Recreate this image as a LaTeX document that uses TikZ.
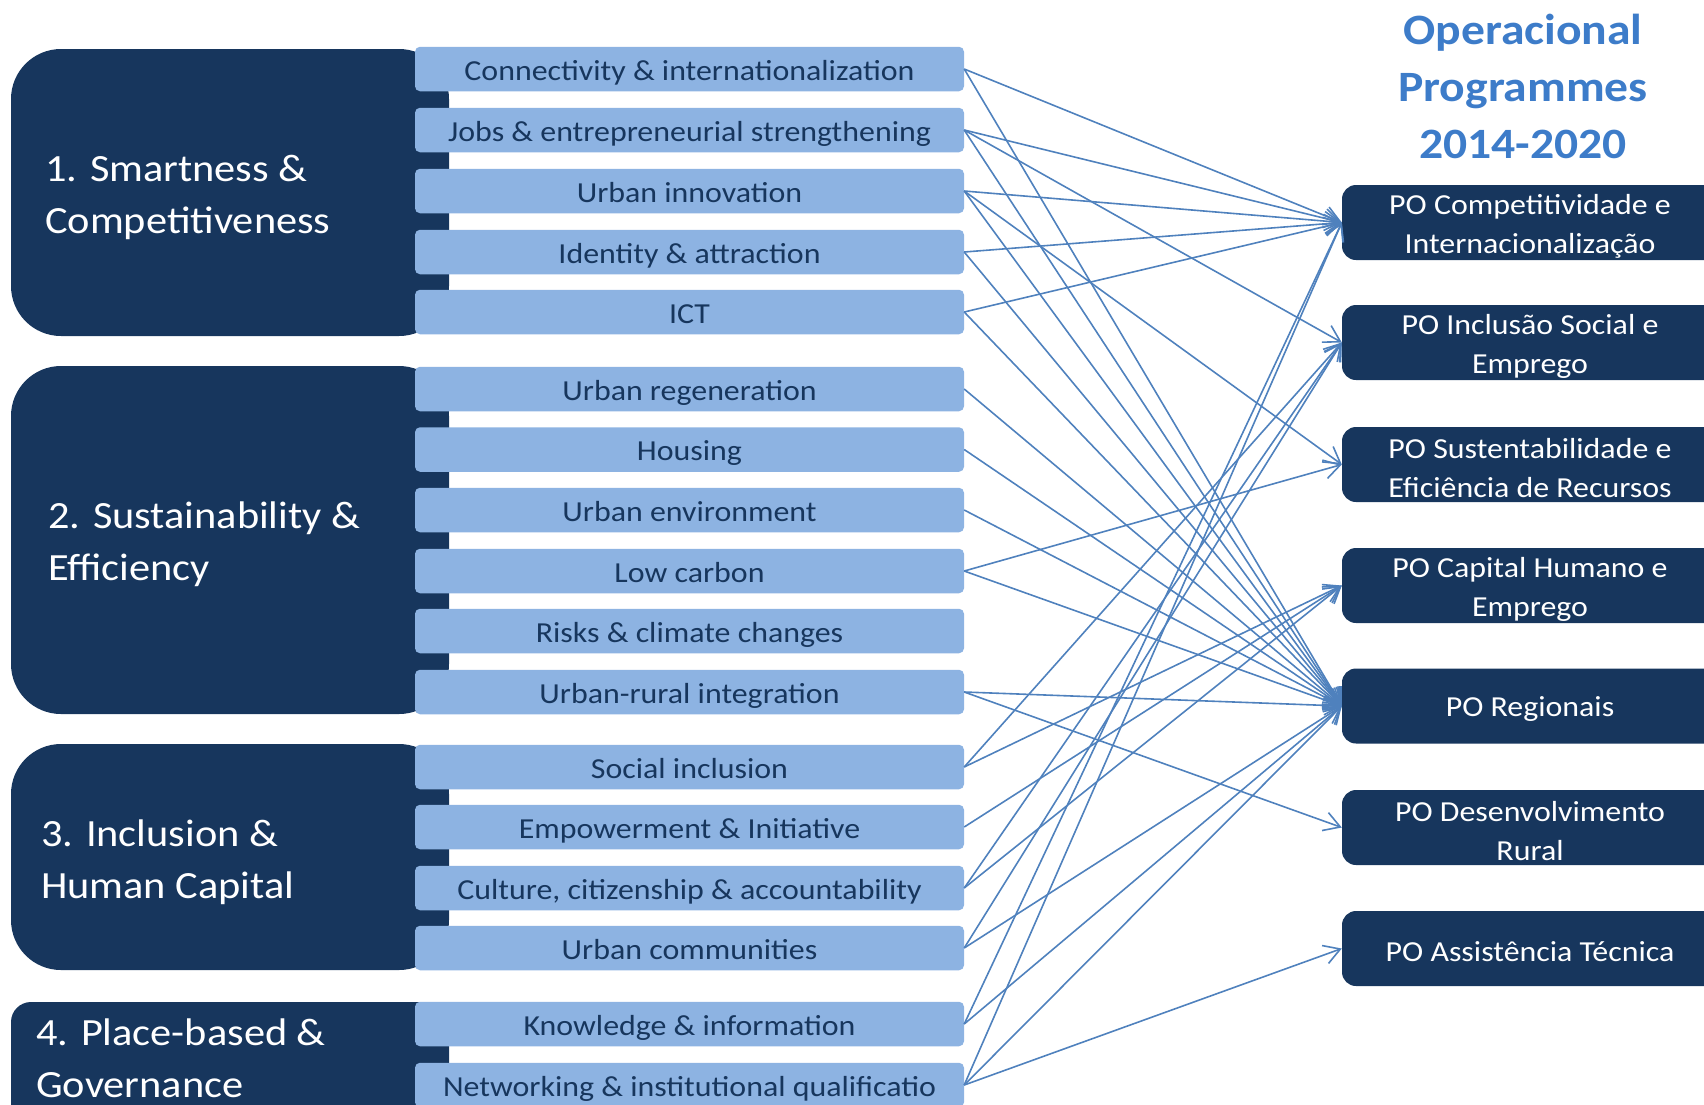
\documentclass[tikz,border=0pt]{standalone}
\usepackage{fontspec}
\setmainfont{Carlito}[FakeStretch=1.1]
\usetikzlibrary{arrows.meta}
\definecolor{navy}{HTML}{17365D}
\definecolor{paleblue}{HTML}{8DB3E2}
\definecolor{linkblue}{HTML}{4F81BD}
\definecolor{titleblue}{HTML}{3D7CC9}

\begin{document}
\begin{tikzpicture}[x=1pt, y=-1pt,
  group/.style={
    fill=navy,
    rounded corners=50pt,
  },
  grouptext/.style={
    anchor=west, align=left, inner sep=0pt, text=white,
    font=\fontsize{38.5}{52}\selectfont,
  },
  item/.style={
    fill=paleblue, text=navy, rounded corners=5pt, inner sep=0pt,
    minimum width=549pt, minimum height=44.5pt,
    text height=22pt, text depth=0pt,
    font=\fontsize{29}{35}\selectfont,
  },
  po/.style={
    fill=navy, rounded corners=14pt, inner sep=0pt,
    minimum width=376pt, minimum height=75pt,
  },
  potext/.style={
    text=white, inner sep=0pt, align=center,
    font=\fontsize{29}{39}\selectfont,
  },
  link/.style={
    draw=linkblue, line width=1.6pt,
    -{Straight Barb[length=16pt, width=19pt, line width=1.6pt]},
  }]
  \useasboundingbox (0,0) rectangle (1704,1104);
  \clip (0,0) rectangle (1704,1104);
  \fill[group] (11,49) rectangle (449,336);
  \fill[group] (11,366) rectangle (449,714);
  \fill[group] (11,744) rectangle (449,970);
  \fill[group, rounded corners=20pt] (11,1002) rectangle (449,1160);
  \node[grouptext] (g1text) at (45,197.5) {1. Smartness \&\\Competitiveness};
  \node[grouptext] (g2text) at (48,544.5) {2. Sustainability \&\\Efficiency};
  \node[grouptext] (g3text) at (41,862.5) {3. Inclusion \&\\Human Capital};
  \node[grouptext] (g4text) at (36,1058.5) {4. Place-based \&\\Governance};
  \foreach \n/\y/\t in
  {conn/69/Connectivity \& internationalization,
   jobs/130/Jobs \& entrepreneurial strengthening,
   innov/191/Urban innovation,
   ident/252/Identity \& attraction,
   ict/312/ICT,
   regen/389/Urban regeneration,
   housing/449.5/Housing,
   env/510/Urban environment,
   lowc/571/Low carbon,
   risks/631/Risks \& climate changes,
   rural/692/Urban-rural integration,
   social/767/Social inclusion,
   empow/827/Empowerment \& Initiative,
   {culture/888/Culture, citizenship \& accountability},
   commun/948/Urban communities,
   know/1024/Knowledge \& information,
   network/1085/Networking \& institutional qualificatio}
  {
    \node[item] (\n) at (689.5,\y) {\t};
  }
  \foreach \n/\y/\t in
  {pocomp/222.5/PO Competitividade e\\Internacionalização,
   poincl/342.5/PO Inclusão Social e\\Emprego,
   posust/464.5/PO Sustentabilidade e\\Eficiência de Recursos,
   pocap/585.5/PO Capital Humano e\\Emprego,
   poreg/706/PO Regionais,
   podes/827.5/PO Desenvolvimento\\Rural,
   poassist/948.5/PO Assistência Técnica}
  {
    \node[po] (\n) at (1530,\y) {};
    \node[potext] (\n-t) at ([yshift=-3.5pt]\n.center) {\t};
  }
  \node[text=titleblue, align=center, font=\fontsize{43.3}{57}\selectfont\bfseries]
    (title) at (1523,86) {Operacional\\Programmes\\2014-2020};
  \foreach \a/\b in
  {conn/pocomp, conn/poreg,
   jobs/pocomp, jobs/poincl, jobs/poreg,
   innov/pocomp, innov/posust, innov/poreg,
   ident/pocomp, ident/poreg,
   ict/pocomp, ict/poreg,
   regen/poreg, housing/poreg, env/poreg,
   lowc/posust, lowc/poreg,
   rural/poreg, rural/podes,
   social/poincl, social/pocap,
   empow/pocap,
   culture/poincl, culture/pocap,
   commun/poincl, commun/poreg,
   know/pocomp, know/poreg,
   network/pocomp, network/poreg, network/poassist}
  {
    \draw[link] (\a.east) -- (\b.west);
  }
\end{tikzpicture}
\end{document}
